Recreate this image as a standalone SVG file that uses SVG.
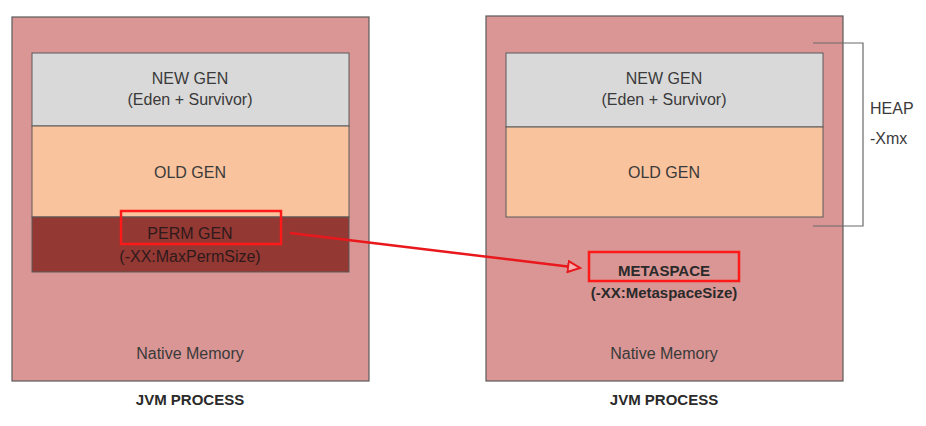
<svg xmlns="http://www.w3.org/2000/svg" width="926" height="426" viewBox="0 0 926 426">
<defs>
<style>
.outer{fill:#d99694;stroke:#5a5a5a;stroke-width:1.2}
.newgen{fill:#d9d9d9;stroke:#5a5a5a;stroke-width:1}
.oldgen{fill:#f9c39d;stroke:#5a5a5a;stroke-width:1}
.permgen{fill:#933833;stroke:#5a5a5a;stroke-width:1}
.hl{fill:none;stroke:#ff1a1a;stroke-width:2.5}
.t{font-family:"Liberation Sans",Arial,sans-serif;font-size:16px;fill:#3a3a3a;text-anchor:middle}
.dk{fill:#2e1a1a}
.b{font-weight:bold;fill:#2a2a2a;font-size:15px}
.bracket{fill:none;stroke:#6a6a6a;stroke-width:1.2}
.arrow{fill:none;stroke:#e8181c;stroke-width:2.5}
</style>
<marker id="ah" markerWidth="16" markerHeight="14" refX="13" refY="7" orient="auto" markerUnits="userSpaceOnUse">
<path d="M1,1.5 L13,7 L1,12.5 Z" fill="#f4b0b0" stroke="#e8181c" stroke-width="2"/>
</marker>
</defs>
<rect width="926" height="426" fill="#ffffff"/>
<g id="left-process">
<rect class="outer" x="12" y="17" width="357" height="364"/>
<rect class="newgen" x="32" y="53" width="317" height="73"/>
<text class="t" x="190" y="84">NEW GEN</text>
<text class="t" x="190" y="105">(Eden + Survivor)</text>
<rect class="oldgen" x="32" y="126" width="317" height="91"/>
<text class="t" x="190" y="178">OLD GEN</text>
<rect class="permgen" x="32" y="217" width="317" height="55"/>
<text class="t dk" x="190" y="239">PERM GEN</text>
<text class="t dk" x="190" y="262">(-XX:MaxPermSize)</text>
<rect class="hl" x="121" y="211" width="160" height="33"/>
<text class="t" x="190" y="359">Native Memory</text>
<text class="t b" x="190" y="405">JVM PROCESS</text>
</g>
<g id="right-process">
<rect class="outer" x="486" y="16" width="357" height="365"/>
<rect class="newgen" x="506" y="53" width="317" height="74"/>
<text class="t" x="664" y="84">NEW GEN</text>
<text class="t" x="664" y="105">(Eden + Survivor)</text>
<rect class="oldgen" x="506" y="127" width="317" height="90"/>
<text class="t" x="664" y="178">OLD GEN</text>
<rect class="hl" x="589" y="252" width="150" height="29"/>
<text class="t b" x="664" y="276">METASPACE</text>
<text class="t b" x="664" y="298">(-XX:MetaspaceSize)</text>
<text class="t" x="664" y="359">Native Memory</text>
<text class="t b" x="664" y="405">JVM PROCESS</text>
</g>
<g id="heap-label">
<path class="bracket" d="M813,43 H863 V226 H813"/>
<text class="t" x="870" y="114" style="text-anchor:start">HEAP</text>
<text class="t" x="870" y="144" style="text-anchor:start">-Xmx</text>
</g>
<g id="connectors">
<path class="arrow" d="M290,233 L580,268" marker-end="url(#ah)"/>
</g>
</svg>
